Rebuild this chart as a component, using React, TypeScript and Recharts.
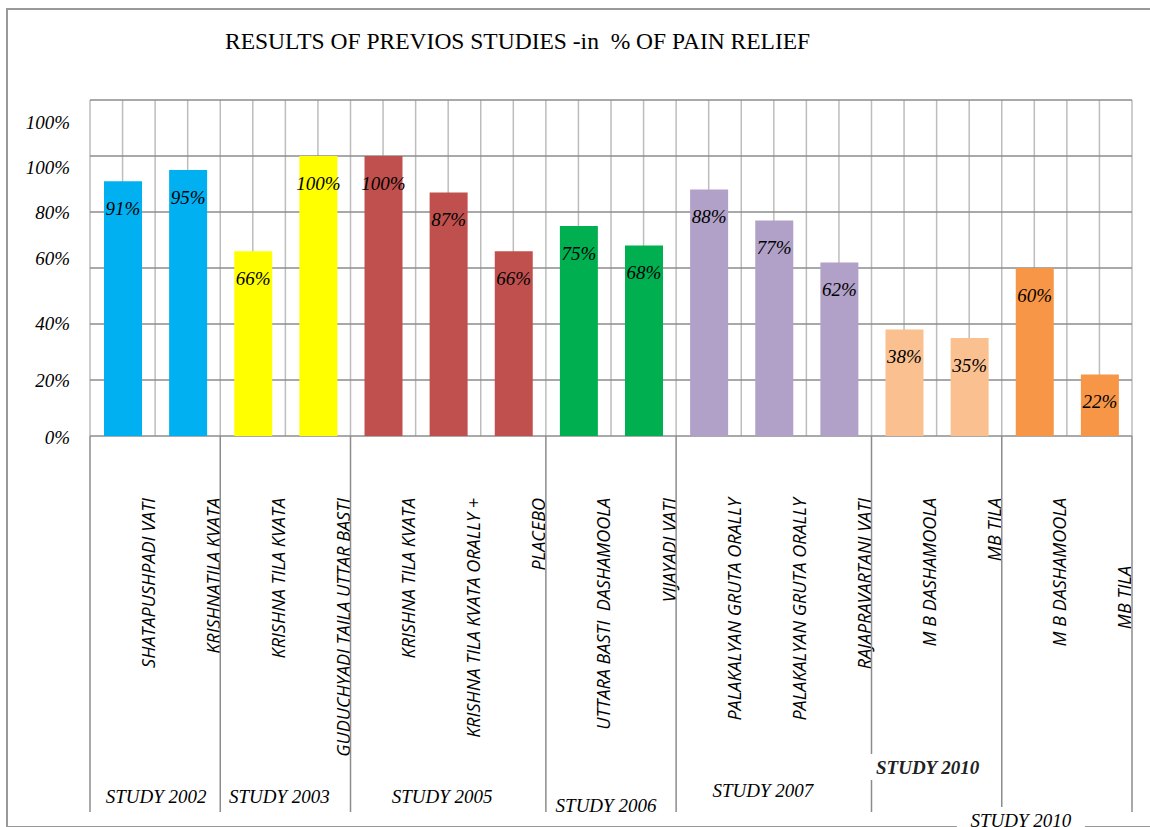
import React from 'react';
import { BarChart, Bar, XAxis, YAxis, CartesianGrid, Cell, LabelList } from 'recharts';

// values
const categories = [
  'SHATAPUSHPADI VATI',
  'KRISHNATILA KVATA',
  'KRISHNA TILA KVATA',
  'GUDUCHYADI TAILA UTTAR BASTI',
  'KRISHNA TILA KVATA',
  'KRISHNA TILA KVATA ORALLY +',
  'PLACEBO',
  'UTTARA BASTI  DASHAMOOLA',
  'VIJAYADI VATI',
  'PALAKALYAN GRUTA ORALLY',
  'PALAKALYAN GRUTA ORALLY',
  'RAJAPRAVARTANI VATI',
  'M B DASHAMOOLA',
  'MB TILA',
  'M B DASHAMOOLA',
  'MB TILA',
];
const painRelief = [91, 95, 66, 100, 100, 87, 66, 75, 68, 88, 77, 62, 38, 35, 60, 22];

const studyGroups = ['STUDY 2002', 'STUDY 2003', 'STUDY 2005', 'STUDY 2006', 'STUDY 2007', 'STUDY 2010', 'STUDY 2010'];
const groupSizes = [2, 2, 3, 2, 3, 2, 2];
const groupColors = ['#00B0F0', '#FFFF00', '#C0504D', '#00B050', '#B1A0C7', '#FAC090', '#F79646'];

const yTicks = [0, 20, 40, 60, 80, 100, 120];
const yTickLabels = ['0%', '20%', '40%', '60%', '80%', '100%', '100%'];

const TITLE = 'RESULTS OF PREVIOS STUDIES -in  % OF PAIN RELIEF';
const SERIF = "'Liberation Serif', 'Times New Roman', serif";
const SANS = "'Open Sans', 'DejaVu Sans', sans-serif";

// group boundaries (in category units) and label positions
const groupStarts: number[] = [];
groupSizes.reduce((acc, n) => {
  groupStarts.push(acc);
  return acc + n;
}, 0);
const boundaries = [...groupStarts, categories.length];
const groupCenters = groupStarts.map((s, i) => s + groupSizes[i] / 2);

const data = categories.map((name, i) => {
  const g = groupStarts.filter((s) => s <= i).length - 1;
  return { name, idx: i, value: painRelief[i], color: groupColors[g] };
});

// label nudges so they sit where the original put them
const yLabelShift = [1, 0, -1, -10, 0, 11, 22];
const groupLabelShift: [number, number][] = [
  [1, -9], [-6, -9], [-6, -9], [-5, 0], [-11, -15], [-9, -38], [-46, 15],
];

// vertical grid at every category edge and centre
const halfCategoryLines = ({ offset }: any) =>
  Array.from({ length: categories.length * 2 + 1 }, (_, k) => offset.left + (k * offset.width) / (categories.length * 2));

const YTick = (props: any) => {
  const { x, y, index } = props;
  return (
    <text
      x={x}
      y={y + yLabelShift[index]}
      textAnchor="end"
      dominantBaseline="central"
      fontFamily={SERIF}
      fontStyle="italic"
      fontSize={19}
      fill="#000"
    >
      {yTickLabels[index]}
    </text>
  );
};

const CategoryTick = (props: any) => {
  const { x, y, payload, index } = props;
  // the last label hangs lower in the original
  const top = index === categories.length - 1 ? 130 : 62;
  return (
    <text
      transform={`translate(${x + 25},${y + top}) rotate(-90)`}
      textAnchor="end"
      dominantBaseline="central"
      fontFamily={SANS}
      fontStyle="italic"
      fontSize={18}
      fill="#000"
      style={{ whiteSpace: 'pre' }}
    >
      {payload.value}
    </text>
  );
};

const GroupTick = (props: any) => {
  const { x, y, payload } = props;
  const v = payload.value;
  if (boundaries.indexOf(v) >= 0) {
    return <line x1={x} x2={x} y1={y - 376} y2={y} stroke="#8c8c8c" strokeWidth={1.5} />;
  }
  const gi = groupCenters.indexOf(v);
  if (gi < 0) return null;
  const [dx, dy] = groupLabelShift[gi];
  const bold = gi === 5;
  return (
    <g>
      {gi >= 5 && <rect x={x + dx - 64} y={y + dy - 20} width={128} height={26} fill="#fff" />}
      <text
        x={x + dx}
        y={y + dy}
        textAnchor="middle"
        fontFamily={SERIF}
        fontStyle="italic"
        fontWeight={bold ? 'bold' : 'normal'}
        fontSize={19}
        fill={bold ? '#222' : '#000'}
      >
        {studyGroups[gi]}
      </text>
    </g>
  );
};

const BarValue = (props: any) => {
  const { x, y, width, value } = props;
  return (
    <text
      x={x + width / 2}
      y={y + 27}
      textAnchor="middle"
      dominantBaseline="central"
      fontFamily={SERIF}
      fontStyle="italic"
      fontSize={19}
      fill="#000"
    >
      {value}%
    </text>
  );
};

export default function App() {
  return (
    <div style={{ position: 'absolute', left: 0, top: 0, width: 1150, height: 827, background: '#fff', overflow: 'hidden' }}>
      <div
        style={{
          position: 'absolute',
          left: 6,
          top: 8,
          width: 1160,
          height: 816,
          borderTop: '2px solid #999',
          borderLeft: '2px solid #999',
          borderBottom: '2px solid #999',
        }}
      />
      <div
        style={{
          position: 'absolute',
          left: 225,
          top: 28,
          fontFamily: SERIF,
          fontSize: 23.5,
          whiteSpace: 'pre',
          color: '#000',
        }}
      >
        {TITLE}
      </div>
      <div style={{ position: 'absolute', left: 0, top: 0 }}>
        <BarChart width={1150} height={827} data={data} margin={{ top: 100, right: 18, left: 0, bottom: 0 }}>
          <CartesianGrid
            horizontal={false}
            verticalCoordinatesGenerator={halfCategoryLines}
            stroke="#bdbdbd"
            strokeWidth={1.5}
          />
          <CartesianGrid vertical={false} stroke="#8c8c8c" strokeWidth={1.5} />
          <XAxis
            xAxisId="cat"
            dataKey="name"
            height={376}
            interval={0}
            axisLine={false}
            tickLine={false}
            tickSize={0}
            tickMargin={0}
            tick={<CategoryTick />}
          />
          <XAxis
            xAxisId="grp"
            dataKey="idx"
            type="number"
            domain={[0, categories.length]}
            ticks={[...boundaries, ...groupCenters]}
            interval={0}
            height={15}
            allowDataOverflow
            axisLine={false}
            tickLine={false}
            tickSize={0}
            tickMargin={0}
            tick={<GroupTick />}
          />
          <YAxis
            width={90}
            domain={[0, 120]}
            ticks={yTicks}
            interval={0}
            axisLine={false}
            tickLine={false}
            tickSize={0}
            tickMargin={20}
            tick={<YTick />}
          />
          <Bar xAxisId="cat" dataKey="value" barSize={38} isAnimationActive={false}>
            {data.map((d, i) => (
              <Cell key={i} fill={d.color} />
            ))}
            <LabelList dataKey="value" content={<BarValue />} />
          </Bar>
        </BarChart>
      </div>
    </div>
  );
}
